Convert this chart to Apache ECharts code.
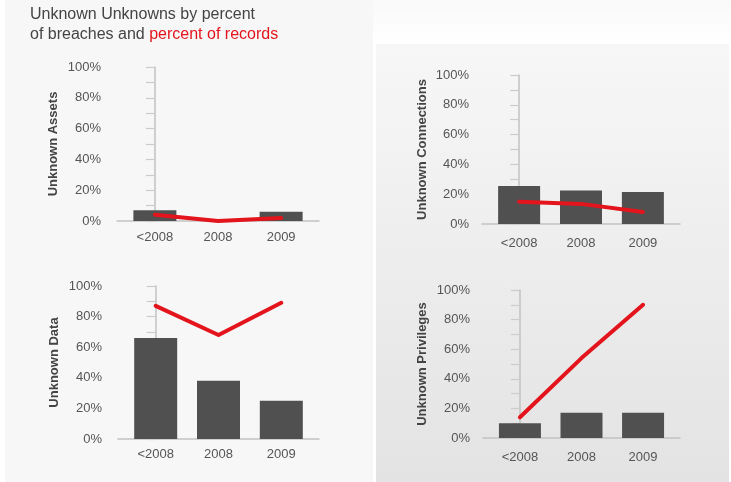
<!DOCTYPE html>
<html>
<head>
<meta charset="utf-8">
<script src="https://cdn.jsdelivr.net/npm/echarts@6/dist/echarts.min.js"></script>
<style>
  html, body { margin: 0; padding: 0; background: #ffffff; }
  #wrap { position: relative; width: 731px; height: 482px; overflow: hidden; }
  .panel { position: absolute; }
  #leftPanel { left: 5px; top: 0; width: 368px; height: 482px; background: #f7f7f7; }
  #topRight { left: 373px; top: 0; width: 358px; height: 44px; background: linear-gradient(#f9f9f9, #ffffff); }
  #rightPanel { left: 376px; top: 44px; width: 353px; height: 438px; background: linear-gradient(#f7f7f7, #e3e3e3); }
  #chart { position: absolute; left: 0; top: 0; width: 731px; height: 482px; }
</style>
</head>
<body>
<div id="wrap">
  <div class="panel" id="leftPanel"></div>
  <div class="panel" id="topRight"></div>
  <div class="panel" id="rightPanel"></div>
  <div id="chart"></div>
</div>
<script>
// Years on the horizontal axis of every small chart
const categories = ['<2008', '2008', '2009'];

// Percent of breaches (bars) and percent of records (red line), per panel
const assetsBreaches = [7, 0, 6];
const assetsRecords = [4, 0, 2];
const connectionsBreaches = [25.5, 22.5, 21.5];
const connectionsRecords = [15, 13.5, 8];
const dataBreaches = [66, 38, 25];
const dataRecords = [87, 68, 89];
const privilegesBreaches = [10, 17, 17];
const privilegesRecords = [14, 54, 90];

const panelNames = ['Unknown Assets', 'Unknown Connections', 'Unknown Data', 'Unknown Privileges'];
const breachSets = [assetsBreaches, connectionsBreaches, dataBreaches, privilegesBreaches];
const recordSets = [assetsRecords, connectionsRecords, dataRecords, privilegesRecords];

const FONT = "'Liberation Sans', Arial, sans-serif";
const AXIS_GRAY = '#c2c2c2';
const TEXT_GRAY = '#555555';
const RED = '#e3141c';
const BAR_GRAY = '#505050';

// grid geometry for each of the four small charts
const grids = [
  { left: 117, top: 67, width: 202, height: 154 },
  { left: 482, top: 75, width: 198, height: 149 },
  { left: 118, top: 286, width: 201, height: 153 },
  { left: 483, top: 290, width: 197, height: 148 }
];
const nameGaps = [57, 53, 57, 54];
const xLabelMargins = [10, 13, 9, 13];
const yLabelMargins = [16, 13, 16, 13];
const barWidths = [43, 42, 43, 42];

const xAxes = [], yAxes = [], series = [];
grids.forEach((g, i) => {
  xAxes.push({
    gridIndex: i,
    type: 'value',
    min: -0.6,
    max: 2.6,
    axisLine: { show: true, lineStyle: { color: AXIS_GRAY, width: 1.5 } },
    axisTick: { show: false },
    splitLine: { show: false },
    axisLabel: {
      customValues: [0, 1, 2],
      formatter: v => categories[Math.round(v)],
      color: TEXT_GRAY,
      fontFamily: FONT,
      fontSize: 13,
      margin: xLabelMargins[i]
    }
  });
  yAxes.push({
    gridIndex: i,
    type: 'value',
    min: 0,
    max: 100,
    interval: 20,
    name: panelNames[i],
    nameLocation: 'middle',
    nameGap: nameGaps[i],
    nameTextStyle: { color: '#444444', fontFamily: FONT, fontSize: 13, fontWeight: 'bold' },
    axisLine: { show: true, lineStyle: { color: AXIS_GRAY, width: 1.5 } },
    axisTick: { show: true, length: 9, lineStyle: { color: '#cccccc', width: 1.2 } },
    minorTick: { show: true, splitNumber: 2, length: 9, lineStyle: { color: '#cccccc', width: 1.2 } },
    splitLine: { show: false },
    axisLabel: {
      formatter: '{value}%',
      color: TEXT_GRAY,
      fontFamily: FONT,
      fontSize: 13,
      margin: yLabelMargins[i]
    }
  });
  series.push({
    type: 'bar',
    xAxisIndex: i,
    yAxisIndex: i,
    barWidth: barWidths[i],
    itemStyle: { color: BAR_GRAY },
    data: breachSets[i].map((v, k) => [k, v]),
    z: 2
  });
  series.push({
    type: 'line',
    xAxisIndex: i,
    yAxisIndex: i,
    showSymbol: false,
    symbol: 'none',
    lineStyle: { color: RED, width: 4, cap: 'round', join: 'round' },
    data: recordSets[i].map((v, k) => [k, v]),
    z: 3
  });
});

const chart = echarts.init(document.getElementById('chart'), null, { renderer: 'canvas' });
chart.setOption({
  backgroundColor: 'transparent',
  animation: false,
  title: {
    left: 30,
    top: 5,
    padding: 0,
    text: '{a|Unknown Unknowns by percent}\n{a|of breaches and }{b|percent of records}',
    textStyle: {
      fontWeight: 'normal',
      rich: {
        a: { color: '#444444', fontFamily: FONT, fontSize: 16, fontWeight: 'normal', lineHeight: 20 },
        b: { color: RED, fontFamily: FONT, fontSize: 16, fontWeight: 'normal', lineHeight: 20 }
      }
    }
  },
  grid: grids,
  xAxis: xAxes,
  yAxis: yAxes,
  series: series
});
</script>
</body>
</html>
